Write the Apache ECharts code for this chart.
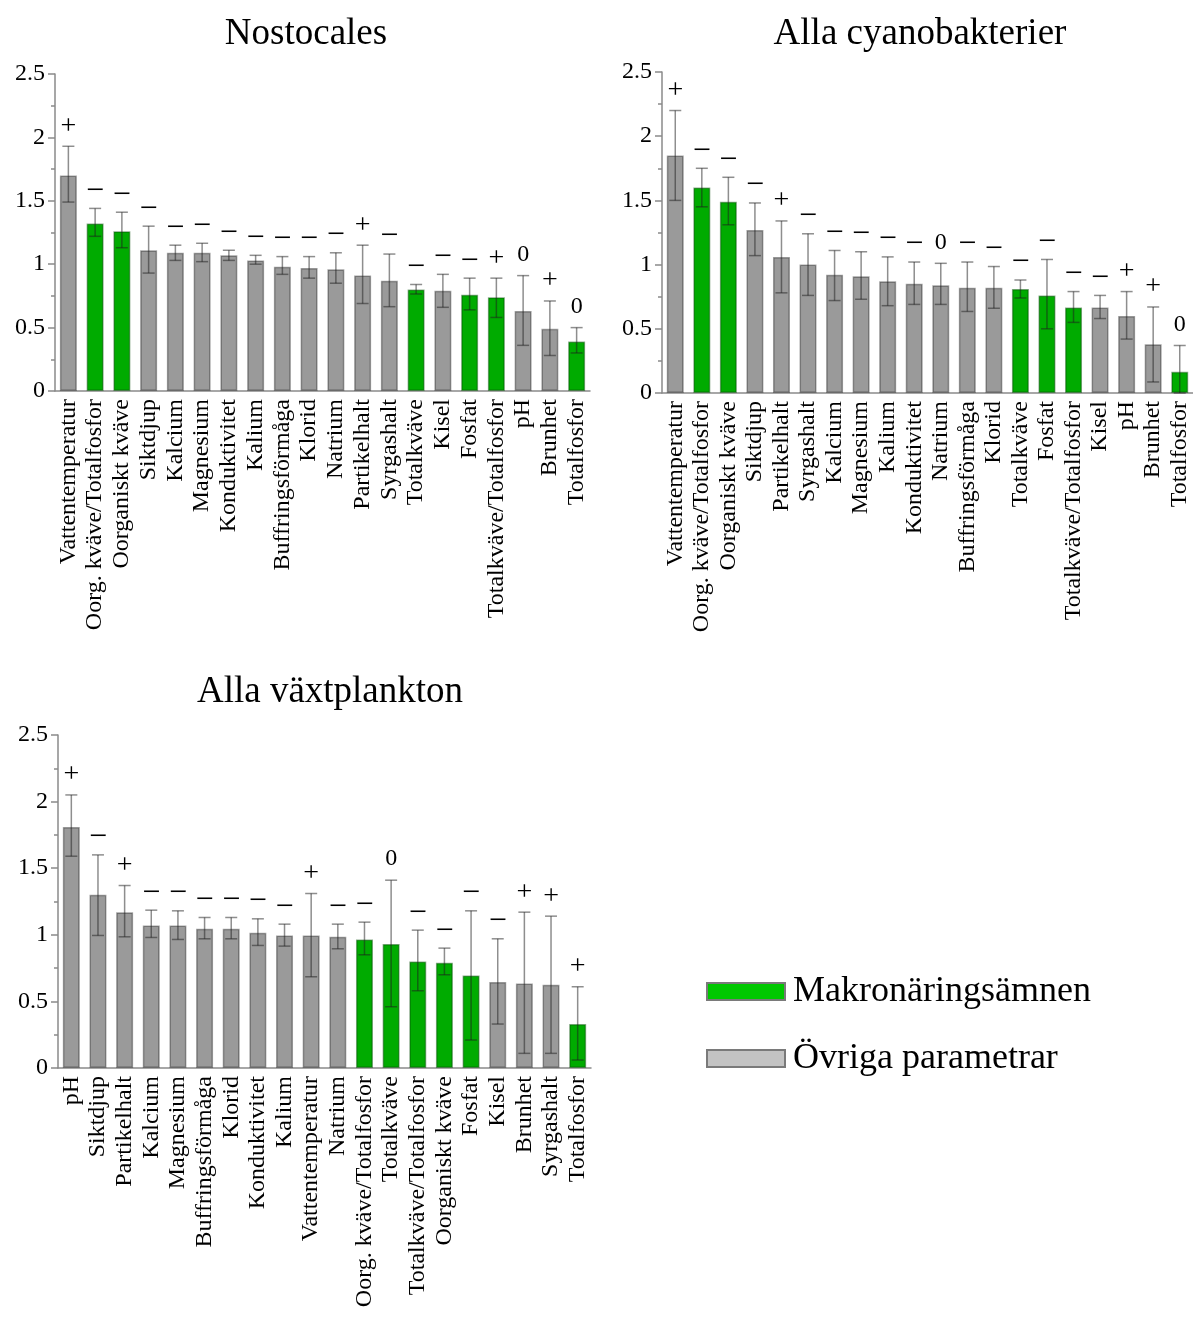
<!DOCTYPE html>
<html>
<head>
<meta charset="utf-8">
<script src="https://cdn.jsdelivr.net/npm/echarts@6/dist/echarts.min.js"></script>
<style>
html,body{margin:0;padding:0;background:#fff;}
#c{width:1193px;height:1326px;}
</style>
</head>
<body>
<div id="c"></div>
<script>
// ---------- DATA ----------
const macroParams = ['Oorg. kväve/Totalfosfor','Oorganiskt kväve','Totalkväve','Fosfat','Totalkväve/Totalfosfor','Totalfosfor'];
const yTicks = [0, 0.5, 1, 1.5, 2, 2.5];

const title1 = 'Nostocales';
const cats1 = ['Vattentemperatur','Oorg. kväve/Totalfosfor','Oorganiskt kväve','Siktdjup','Kalcium','Magnesium','Konduktivitet','Kalium','Buffringsförmåga','Klorid','Natrium','Partikelhalt','Syrgashalt','Totalkväve','Kisel','Fosfat','Totalkväve/Totalfosfor','pH','Brunhet','Totalfosfor'];
const vals1 = [1.70,1.32,1.26,1.11,1.09,1.09,1.07,1.03,0.98,0.97,0.96,0.91,0.87,0.80,0.79,0.76,0.74,0.63,0.49,0.39];
const hi1   = [1.93,1.44,1.41,1.30,1.15,1.165,1.11,1.07,1.06,1.06,1.09,1.15,1.08,0.84,0.92,0.89,0.89,0.91,0.71,0.50];
const lo1   = [1.49,1.22,1.13,0.93,1.03,1.02,1.03,1.00,0.92,0.89,0.85,0.69,0.665,0.765,0.66,0.64,0.58,0.36,0.28,0.30];
const signs1 = ['+','−','−','−','−','−','−','−','−','−','−','+','−','−','−','−','+','0','+','0'];

const title2 = 'Alla cyanobakterier';
const cats2 = ['Vattentemperatur','Oorg. kväve/Totalfosfor','Oorganiskt kväve','Siktdjup','Partikelhalt','Syrgashalt','Kalcium','Magnesium','Kalium','Konduktivitet','Natrium','Buffringsförmåga','Klorid','Totalkväve','Fosfat','Totalkväve/Totalfosfor','Kisel','pH','Brunhet','Totalfosfor'];
const vals2 = [1.85,1.60,1.49,1.27,1.06,1.00,0.92,0.91,0.87,0.85,0.84,0.82,0.82,0.81,0.76,0.665,0.665,0.60,0.38,0.165];
const hi2   = [2.20,1.75,1.68,1.48,1.34,1.24,1.11,1.10,1.06,1.02,1.01,1.02,0.985,0.88,1.04,0.79,0.76,0.79,0.67,0.37];
const lo2   = [1.50,1.45,1.31,1.07,0.78,0.76,0.72,0.73,0.68,0.69,0.69,0.635,0.66,0.74,0.50,0.55,0.58,0.42,0.086,0];
const signs2 = ['+','−','−','−','+','−','−','−','−','−','0','−','−','−','−','−','−','+','+','0'];

const title3 = 'Alla växtplankton';
const cats3 = ['pH','Siktdjup','Partikelhalt','Kalcium','Magnesium','Buffringsförmåga','Klorid','Konduktivitet','Kalium','Vattentemperatur','Natrium','Oorg. kväve/Totalfosfor','Totalkväve','Totalkväve/Totalfosfor','Oorganiskt kväve','Fosfat','Kisel','Brunhet','Syrgashalt','Totalfosfor'];
const vals3 = [1.81,1.30,1.17,1.07,1.07,1.045,1.045,1.015,0.995,0.995,0.985,0.965,0.93,0.80,0.79,0.695,0.645,0.635,0.625,0.33];
const hi3   = [2.05,1.60,1.37,1.185,1.18,1.13,1.13,1.12,1.08,1.31,1.08,1.095,1.41,1.035,0.90,1.18,0.97,1.17,1.14,0.61];
const lo3   = [1.59,0.995,0.985,0.98,0.965,0.97,0.97,0.92,0.915,0.685,0.895,0.85,0.46,0.58,0.70,0.21,0.33,0.11,0.11,0.06];
const signs3 = ['+','−','+','−','−','−','−','−','−','+','−','−','0','−','−','−','−','+','+','+'];

const legendNames = ['Makronäringsämnen','Övriga parametrar'];

// ---------- LAYOUT / STYLE ----------
const FONT = '"Liberation Serif","Times New Roman",serif';
const panels = [
  {title:title1, cats:cats1, vals:vals1, hi:hi1, lo:lo1, signs:signs1, grid:{left:55, top:74, width:535, height:317}, tx:301, ty:11},
  {title:title2, cats:cats2, vals:vals2, hi:hi2, lo:lo2, signs:signs2, grid:{left:662, top:72, width:531, height:321}, tx:915, ty:11},
  {title:title3, cats:cats3, vals:vals3, hi:hi3, lo:lo3, signs:signs3, grid:{left:58, top:735, width:533, height:333}, tx:325, ty:669}
];
const GREEN = '#00ab00', GRAY = '#9a9a9a';
const signOffset = {'+':20, '−':17, '0':21};
const signSize = {'+':28, '−':32, '0':24};

const option = {
  animation:false,
  backgroundColor:'#fff',
  title:[], grid:[], xAxis:[], yAxis:[], series:[],
  legend:{
    orient:'vertical', left:701, top:966, itemWidth:78, itemHeight:17, itemGap:26,
    icon:'rect', selectedMode:false,
    textStyle:{fontFamily:FONT, fontSize:36, color:'#000', lineHeight:41, padding:[0,0,0,3]},
    data:[
      {name:legendNames[0], itemStyle:{color:'#00c800', borderColor:'#7a7a7a', borderWidth:2}},
      {name:legendNames[1], itemStyle:{color:'#c3c3c3', borderColor:'#7a7a7a', borderWidth:2}}
    ]
  }
};

panels.forEach((p, i) => {
  option.title.push({text:p.title, left:p.tx, top:p.ty, textAlign:'center',
    textStyle:{fontFamily:FONT, fontSize:37, fontWeight:'normal', color:'#000'}});
  option.grid.push(p.grid);
  option.xAxis.push({
    type:'category', gridIndex:i, data:p.cats,
    axisLine:{lineStyle:{color:'#8a8a8a', width:1.5}},
    axisTick:{alignWithLabel:true, length:6, lineStyle:{color:'#8a8a8a', width:1.5}},
    axisLabel:{rotate:90, interval:0, margin:8, fontFamily:FONT, fontSize:24, color:'#000'},
    splitLine:{show:false}
  });
  option.yAxis.push({
    type:'value', gridIndex:i, min:yTicks[0], max:yTicks[yTicks.length-1], interval:0.5,
    axisLine:{show:true, lineStyle:{color:'#8a8a8a', width:1.5}},
    axisTick:{show:true, length:7, lineStyle:{color:'#8a8a8a', width:1.5}},
    minorTick:{show:true, splitNumber:2, length:4, lineStyle:{color:'#8a8a8a', width:1.5}},
    axisLabel:{margin:10, fontFamily:FONT, fontSize:24, color:'#000'},
    splitLine:{show:false}
  });
  const isMacro = p.cats.map(c => macroParams.includes(c));
  option.series.push({
    name:legendNames[0], type:'bar', xAxisIndex:i, yAxisIndex:i, barWidth:17, barGap:'-100%',
    data:p.vals.map((v,k) => isMacro[k] ? v : '-'),
    itemStyle:{color:GREEN, borderColor:'rgba(0,70,0,0.45)', borderWidth:1.5}
  });
  option.series.push({
    name:legendNames[1], type:'bar', xAxisIndex:i, yAxisIndex:i, barWidth:17, barGap:'-100%',
    data:p.vals.map((v,k) => isMacro[k] ? '-' : v),
    itemStyle:{color:GRAY, borderColor:'rgba(0,0,0,0.35)', borderWidth:1.5}
  });
  const signs = p.signs;
  option.series.push({
    type:'custom', xAxisIndex:i, yAxisIndex:i, z:10,
    encode:{x:0, y:[1,2]},
    data:p.cats.map((c,k) => [k, p.lo[k], p.hi[k]]),
    renderItem:function(params, api){
      const top = api.coord([api.value(0), api.value(2)]);
      const bot = api.coord([api.value(0), api.value(1)]);
      const cx = top[0], cap = 6;
      const stroke = {stroke:'rgba(30,30,30,0.5)', lineWidth:1.5};
      const s = signs[params.dataIndex];
      return {type:'group', children:[
        {type:'line', shape:{x1:cx, y1:top[1], x2:cx, y2:bot[1]}, style:stroke},
        {type:'line', shape:{x1:cx-cap, y1:top[1], x2:cx+cap, y2:top[1]}, style:stroke},
        {type:'line', shape:{x1:cx-cap, y1:bot[1], x2:cx+cap, y2:bot[1]}, style:stroke},
        {type:'text', style:{text:s, x:cx, y:top[1]-signOffset[s], align:'center', verticalAlign:'middle',
          textAlign:'center', textVerticalAlign:'middle', font:signSize[s] + 'px ' + FONT, fill:'#000'}}
      ]};
    }
  });
});

const chart = echarts.init(document.getElementById('c'), null, {renderer:'canvas'});
chart.setOption(option);
</script>
</body>
</html>
